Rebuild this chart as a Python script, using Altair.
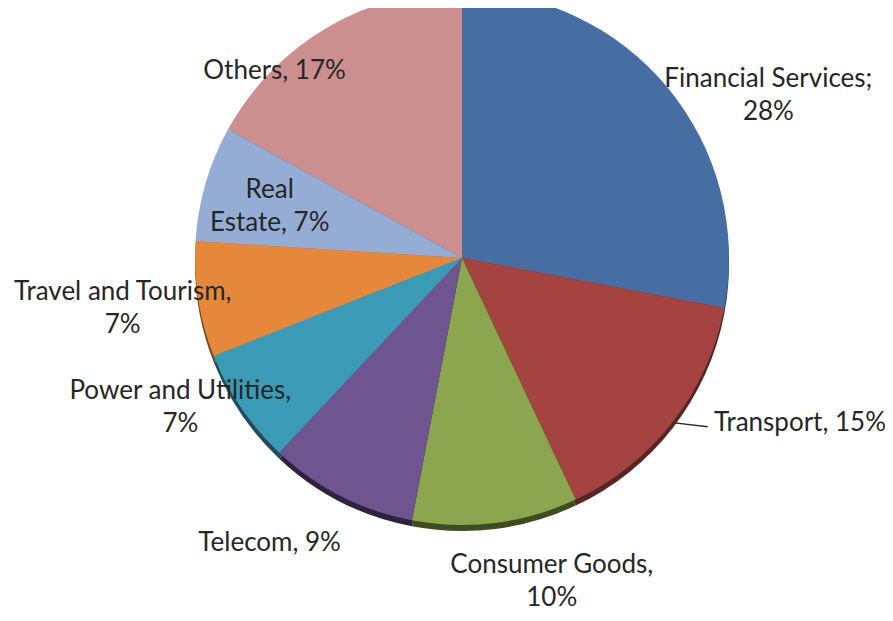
import math
import altair as alt
import pandas as pd

categories = ["Financial Services", "Transport", "Consumer Goods", "Telecom",
              "Power and Utilities", "Travel and Tourism", "Real Estate", "Others"]
shares = [28, 15, 10, 9, 7, 7, 7, 17]
labels = ["Financial Services;\n28%", "Transport, 15%", "Consumer Goods,\n10%",
          "Telecom, 9%", "Power and Utilities,\n7%", "Travel and Tourism,\n7%",
          "Real\nEstate, 7%", "Others, 17%"]
colors = ["#466EA3", "#A4433F", "#8BA64E", "#6F5590", "#3B9BB6", "#E5883C", "#95ADD5", "#CA8F8E"]
shadow_colors = ["#2A4466", "#5A2422", "#3E4D1E", "#2E2240", "#1C4E5E", "#7A4618", "#53688A", "#7A5352"]

# layout (not data): label placement relative to each slice's mid-angle
label_radius = [347, 376, 336, 344, 319, 343, 199, 265]
label_angle_shift = [11.6, -11.8, -8.3, 7.0, 6.2, 0.6, -1.3, -14.4]
CX, CY, R = 454, 250, 267
LH = 33

df = pd.DataFrame({
    "category": categories,
    "share": shares,
    "label": labels,
    "order": list(range(len(categories))),
    "lr": label_radius,
    "shift": label_angle_shift,
})

color_scale = alt.Scale(domain=categories, range=colors)
shadow_scale = alt.Scale(domain=categories, range=shadow_colors)

base = alt.Chart(df)

shadow = base.mark_arc(radius=R, stroke=None).encode(
    theta=alt.Theta("share:Q", stack=True),
    order=alt.Order("order:Q"),
    color=alt.Color("category:N", scale=shadow_scale, legend=None),
    x=alt.value(CX),
    y=alt.value(CY + 6),
)

pie = base.mark_arc(radius=R, stroke=None).encode(
    theta=alt.Theta("share:Q", stack=True),
    order=alt.Order("order:Q"),
    color=alt.Color("category:N", scale=color_scale, legend=None),
    x=alt.value(CX),
    y=alt.value(CY),
)

pos = base.transform_window(
    cum="sum(share)", sort=[alt.SortField("order")], frame=[None, 0]
).transform_calculate(
    mid="(datum.cum - datum.share/2)/100*2*PI",
)

text = pos.transform_calculate(
    a="datum.mid + datum.shift*PI/180",
    nl="length(split(datum.label, '\\n'))",
).transform_calculate(
    lx=f"{CX} + datum.lr*sin(datum.a)",
    ly=f"{CY} - datum.lr*cos(datum.a) - (datum.nl - 1)*{LH}/2",
).mark_text(
    font="Lato", fontSize=26, color="#262626", lineBreak="\n",
    lineHeight=LH, align="center", baseline="middle",
).encode(
    x=alt.X("lx:Q", scale=None, axis=None),
    y=alt.Y("ly:Q", scale=None, axis=None),
    text="label:N",
)

leader = pos.transform_filter(alt.datum.category == "Transport").transform_calculate(
    x1=f"{CX} + {R+2}*sin(datum.mid)",
    y1=f"{CY} - {R+2}*cos(datum.mid)",
    x2=f"{CX} + 298*sin(datum.mid - 3.3*PI/180)",
    y2=f"{CY} - 298*cos(datum.mid - 3.3*PI/180)",
).mark_rule(color="#262626", strokeWidth=1.5).encode(
    x=alt.X("x1:Q", scale=None, axis=None),
    y=alt.Y("y1:Q", scale=None, axis=None),
    x2="x2:Q",
    y2="y2:Q",
)

chart = alt.layer(shadow, pie, leader, text).resolve_scale(
    color="independent"
).properties(
    width=877, height=605, autosize="none", padding=0
).configure_view(stroke=None)

chart.save("out.html", embed_options={"renderer": "svg", "actions": False})
